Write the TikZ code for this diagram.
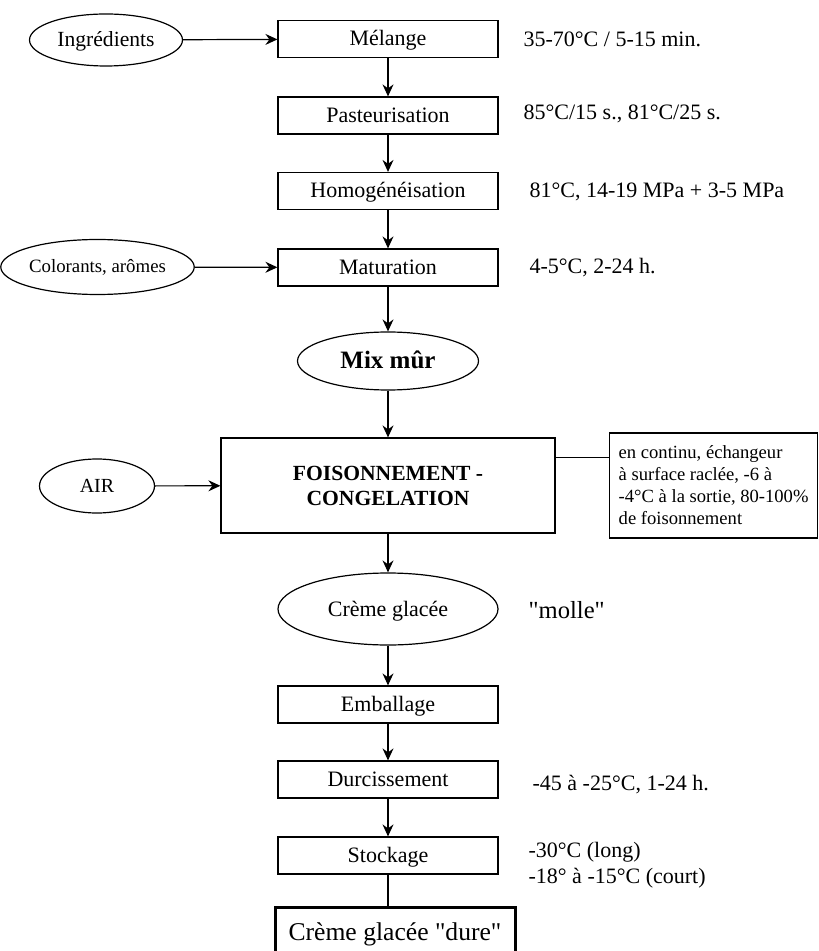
\documentclass[tikz,border=0pt]{standalone}
\usepackage{fontspec}
\setmainfont{Liberation Serif}
\usepackage{tikz}
\usetikzlibrary{shapes.geometric, arrows.meta}

\begin{document}
\begin{tikzpicture}[> = {Stealth[length = 6pt, width = 5.5pt, inset = 2pt]}, x = 0.5pt, y = -0.5pt, line width = 0.6pt,
    box/.style = {draw, rectangle, minimum width = 110pt, minimum height = 18.5pt, inner sep = 0pt, text height = 8pt, text depth = 1pt, font = \fontsize{11}{13}\selectfont},
    oval/.style = {draw, ellipse, inner sep = 0pt, text height = 8pt, text depth = 1pt, font = \fontsize{11}{13}\selectfont},
    info/.style = {anchor = west, inner sep = 0pt, font = \fontsize{11}{13}\selectfont}]
          \useasboundingbox (0,0) rectangle (818,951);
          \clip (0,0) rectangle (818,951);
          % main column
          \node[box] (melange) at (388,39) {Mélange};
          \node[box] (pasteur) at (388,115.5) {Pasteurisation};
          \node[box] (homog) at (388,191) {Homogénéisation};
          \node[box] (matur) at (388,267.5) {Maturation};
          \node[oval, minimum width = 90.5pt, minimum height = 29pt, text height = 9pt, font = \fontsize{12.5}{14}\selectfont\bfseries] (mix) at (388,361) {Mix mûr};
          \node[box, minimum width = 167pt, minimum height = 47.5pt, align = center, text height = , text depth = , font = \fontsize{10.8}{12.5}\selectfont\bfseries] (foison) at (388,485.5) {FOISONNEMENT -\\CONGELATION};
          \node[oval, minimum width = 110pt, minimum height = 36pt] (creme) at (388,609) {Crème glacée};
          \node[box] (emball) at (388,704.5) {Emballage};
          \node[box] (durc) at (388,779.5) {Durcissement};
          \node[box] (stock) at (388,855.5) {Stockage};
          \node[box, line width = 1.5pt, minimum width = 120pt, minimum height = 25pt, text height = 9pt, font = \fontsize{12.8}{15}\selectfont] (dure) at (395,932) {Crème glacée \textquotedbl dure\textquotedbl};
          % inputs
          \node[oval, minimum width = 76.5pt, minimum height = 26pt, font = \fontsize{10.8}{13}\selectfont] (ingr) at (106,40) {Ingrédients};
          \node[oval, minimum width = 85.5pt, minimum height = 27.5pt, text height = 7pt, font = \fontsize{9.4}{11}\selectfont] (color) at (97.5,267) {Colorants, arômes};
          \node[oval, minimum width = 57.5pt, minimum height = 27pt, text height = 7.5pt, font = \fontsize{10}{12}\selectfont] (air) at (97,486) {AIR};
          % conditions
          \node[info] (c1) at (523,39) {35-70°C / 5-15 min.};
          \node[info] (c2) at (523,114) {85°C/15 s., 81°C/25 s.};
          \node[info] (c3) at (529,192) {81°C, 14-19 MPa + 3-5 MPa};
          \node[info] (c4) at (529,268) {4-5°C, 2-24 h.};
          \node[info, font = \fontsize{12.3}{14}\selectfont] (molle) at (528,610) {\textquotedbl molle\textquotedbl};
          \node[info] (c5) at (532,785) {-45 à -25°C, 1-24 h.};
          \node[info, align = left] (c6) at (528,865) {-30°C (long)\\-18° à -15°C (court)};
          \node[draw, anchor = west, minimum width = 104pt, minimum height = 52.5pt, inner sep = 0pt, align = left, font = \fontsize{9.3}{11}\selectfont] (note) at (609,485.5)
              {en continu, échangeur\\à surface raclée, -6 à\\-4°C à la sortie, 80-100\%\\de foisonnement};
          % flow
          \draw[->] (melange) -- (pasteur);
          \draw[->] (pasteur) -- (homog);
          \draw[->] (homog) -- (matur);
          \draw[->] (matur) -- (mix);
          \draw[->] (mix) -- (foison);
          \draw[->] (foison) -- (creme);
          \draw[->] (creme) -- (emball);
          \draw[->] (emball) -- (durc);
          \draw[->] (durc) -- (stock);
          \draw (stock.south) -- (stock.south |- dure.north);
          \draw[->] (ingr) -- (melange);
          \draw[->] (color) -- (matur);
          \draw[->] (air) -- (foison);
          \draw ([yshift = 14pt]foison.east) -- ([yshift = 14pt]note.west);
        \end{tikzpicture}
\end{document}
